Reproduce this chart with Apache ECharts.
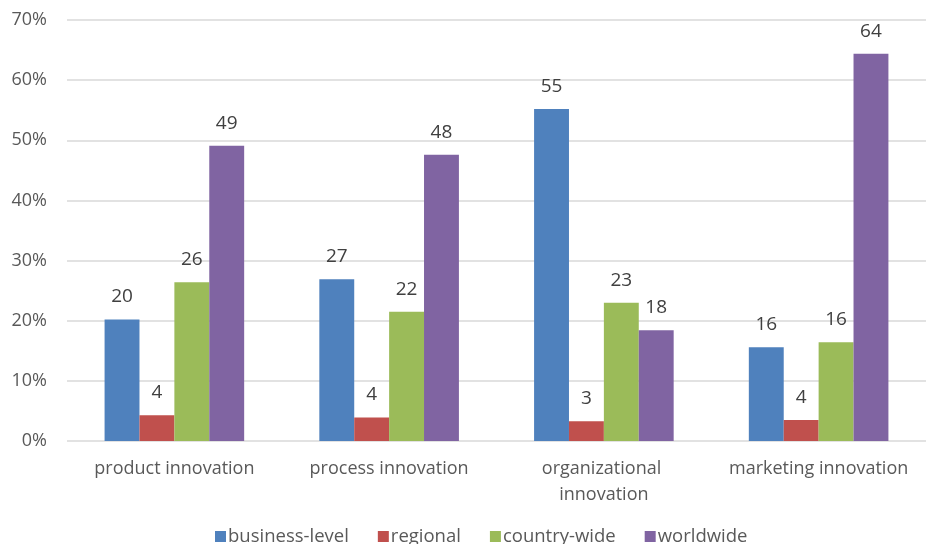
<!DOCTYPE html>
<html><head><meta charset="utf-8">
<script src="https://cdn.jsdelivr.net/npm/echarts@6/dist/echarts.min.js"></script>
<style>html,body{margin:0;padding:0;background:#fff}#c{width:926px;height:544px}</style>
</head><body><div id="c"></div>
<script>
const categories = ["product innovation", "process innovation", "organizational innovation", "marketing innovation"];
const seriesNames = ["business-level", "regional", "country-wide", "worldwide"];
const businessLevel = [20.2, 26.9, 55.2, 15.6];
const regional = [4.3, 3.9, 3.3, 3.5];
const countryWide = [26.4, 21.5, 23.0, 16.4];
const worldwide = [49.1, 47.6, 18.4, 64.4];
const yTicks = [0, 10, 20, 30, 40, 50, 60, 70];
const colors = ["#4f81bd", "#c0504d", "#9bbb59", "#8064a2"];
const FONT = "Open Sans";
const allSeries = [businessLevel, regional, countryWide, worldwide];
const chart = echarts.init(document.getElementById('c'));
chart.setOption({
  animation: false,
  textStyle: {fontFamily: FONT},
  grid: {left: 67, right: 0, top: 20, bottom: 103},
  legend: {
    data: seriesNames, bottom: -7, left: 210, itemWidth: 11, itemHeight: 11, itemGap: 29,
    icon: 'rect', textStyle: {fontFamily: FONT, fontSize: 18.5, color: '#595959', padding: [0, 0, 0, -3]}
  },
  xAxis: {
    type: 'category', data: categories,
    axisLine: {show: false}, axisTick: {show: false},
    axisLabel: {fontFamily: FONT, fontSize: 18, color: '#595959', margin: 15, lineHeight: 26,
      width: 190, overflow: 'break', interval: 0}
  },
  yAxis: {
    type: 'value', min: yTicks[0], max: yTicks[yTicks.length - 1], interval: 10,
    axisLabel: {formatter: v => v + '%', fontFamily: FONT, fontSize: 18, color: '#595959', margin: 20},
    splitLine: {lineStyle: {color: '#d9d9d9', width: 1.5}},
    axisLine: {show: false}, axisTick: {show: false}
  },
  series: seriesNames.map((n, i) => ({
    name: n, type: 'bar', data: allSeries[i], barGap: '0%', barCategoryGap: '35%',
    itemStyle: {color: colors[i]},
    label: {show: true, position: 'top', distance: 13, formatter: p => Math.round(p.value),
      fontFamily: FONT, fontSize: 19, color: '#404040'}
  }))
});
</script></body></html>
